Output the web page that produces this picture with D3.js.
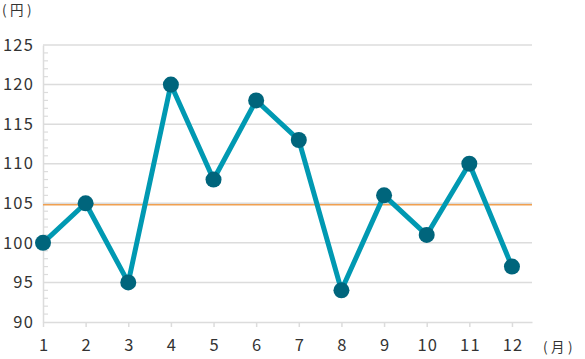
<!DOCTYPE html>
<html><head><meta charset="utf-8">
<script src="https://cdn.jsdelivr.net/npm/d3@7"></script>
<style>body{margin:0;background:#fff;} svg{display:block;} text{font-family:"Noto Sans CJK JP","Noto Sans",sans-serif;}</style>
</head><body><svg id="c" width="585" height="359"></svg>
<script>
const months = [1,2,3,4,5,6,7,8,9,10,11,12];
const values = [100,105,95,120,108,118,113,94,106,101,110,97];
const average = [104.8];
const yTicks = [90,95,100,105,110,115,120,125];
const yUnit = "(円)";
const xUnit = "(月)";
const FONT = '"Noto Sans CJK JP","Noto Sans",sans-serif';

const svg = d3.select("#c");
const x = d3.scaleLinear().domain([1,12.47]).range([43,532]);
const y = d3.scaleLinear().domain([90,125]).range([322,45]);

svg.append("g").selectAll("line").data(yTicks.slice(1)).join("line")
  .attr("x1",43).attr("x2",532).attr("y1",d=>y(d)).attr("y2",d=>y(d))
  .attr("stroke","#dcdcdc").attr("stroke-width",1.5);

svg.append("g").selectAll("line").data(d3.range(90,126,1).filter(d=>d%5!==0)).join("line")
  .attr("x1",43).attr("x2",48).attr("y1",d=>y(d)).attr("y2",d=>y(d))
  .attr("stroke","#dcdcdc").attr("stroke-width",1.2);

const ya = svg.append("g").attr("transform","translate(43,0)")
  .call(d3.axisLeft(y).tickValues(yTicks).tickSize(0).tickPadding(9));
ya.attr("font-family",FONT);
ya.select(".domain").attr("stroke","#dcdcdc").attr("stroke-width",1.5);
ya.selectAll("text").attr("font-size",16.5).attr("fill","#333").attr("letter-spacing",1.2).attr("x",-9).style("font-family",FONT);

const xa = svg.append("g").attr("transform","translate(0,322)")
  .call(d3.axisBottom(x).tickValues(months).tickSize(5).tickPadding(9).tickSizeOuter(0));
xa.attr("font-family",FONT);
xa.select(".domain").attr("stroke","#dcdcdc").attr("stroke-width",1.5);
xa.selectAll(".tick line").attr("stroke","#dcdcdc").attr("stroke-width",1.5);
xa.selectAll("text").attr("font-size",16.5).attr("fill","#333").attr("letter-spacing",1.2).attr("dx",0.6).attr("y",17).attr("dy","0.71em").style("font-family",FONT);

svg.append("line").attr("x1",43).attr("x2",532).attr("y1",y(average[0])).attr("y2",y(average[0]))
  .attr("stroke","#f0a050").attr("stroke-width",1.5);

svg.append("path").datum(values)
  .attr("d",d3.line().x((d,i)=>x(months[i])).y(d=>y(d)))
  .attr("fill","none").attr("stroke","#0099b2").attr("stroke-width",5).attr("stroke-linejoin","round");

svg.append("g").selectAll("circle").data(values).join("circle")
  .attr("cx",(d,i)=>x(months[i])).attr("cy",d=>y(d)).attr("r",8).attr("fill","#00657c");

svg.append("text").attr("x",2).attr("y",15).attr("font-size",13.5).attr("letter-spacing",3.5).attr("fill","#333").text(yUnit);
svg.append("text").attr("x",543).attr("y",352).attr("font-size",13.5).attr("letter-spacing",3.5).attr("fill","#333").text(xUnit);
</script></body></html>
